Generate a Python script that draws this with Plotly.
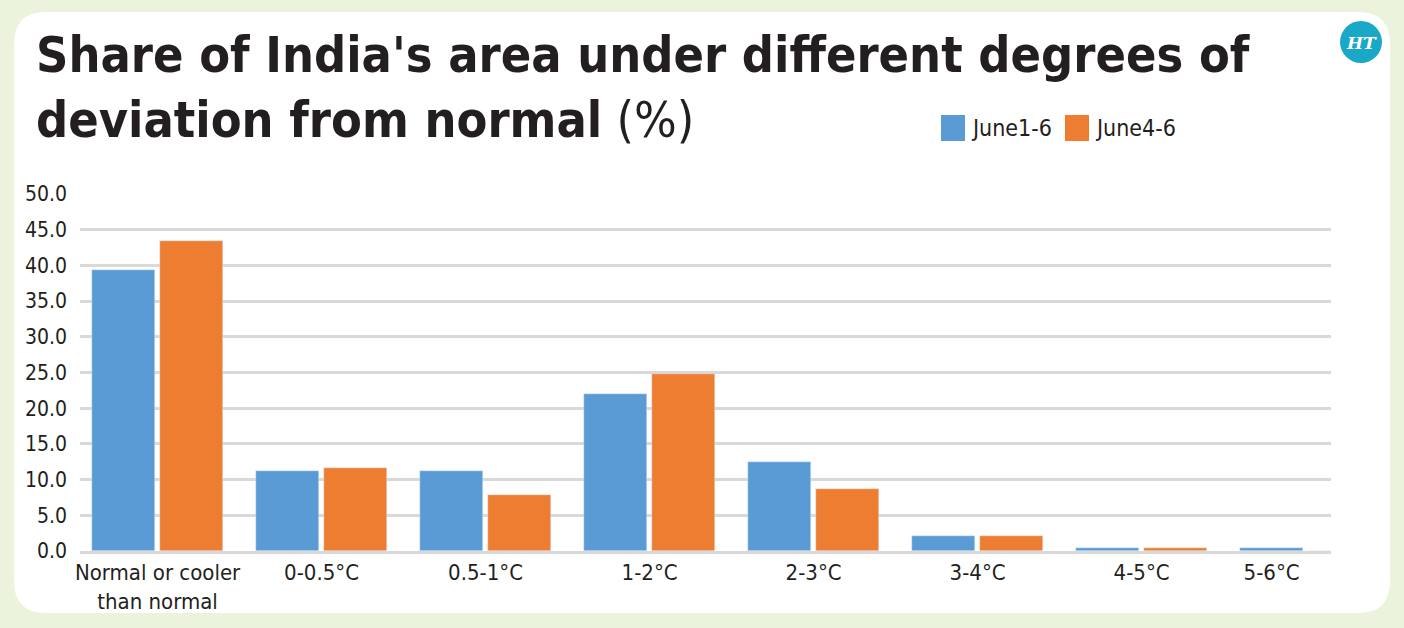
import plotly.graph_objects as go

categories = ["Normal or cooler<br>than normal", "0-0.5°C", "0.5-1°C", "1-2°C",
              "2-3°C", "3-4°C", "4-5°C", "5-6°C"]
june1_6 = [39.4, 11.2, 11.2, 22.0, 12.4, 2.1, 0.4, 0.4]
june4_6 = [43.4, 11.6, 7.9, 24.8, 8.7, 2.1, 0.4, 0.0]
y_ticks = [0, 5, 10, 15, 20, 25, 30, 35, 40, 45, 50]
y_tick_text = [f"{v:.1f}" for v in y_ticks]

W, H = 1404, 628
L, R, T, B = 80, 73, 194, 77
PW, PH = W - L - R, H - T - B

def px(x):
    return (x - L) / PW

def py(y):
    return 1 - (y - T) / PH

BLUE = "#5B9BD5"
ORANGE = "#ED7D31"
TXT = "#231F20"
COND = "DejaVu Sans Condensed, Roboto, sans-serif"

idx = list(range(len(categories)))
off = 0.207
bw = 0.384

fig = go.Figure()
fig.add_bar(x=[i - off for i in idx], y=june1_6, width=bw, marker_color=BLUE,
            name="June1-6", showlegend=False)
fig.add_bar(x=[i + off for i in idx], y=june4_6, width=bw, marker_color=ORANGE,
            name="June4-6", showlegend=False)

tickvals = [float(i) for i in idx]
tickvals[-1] = idx[-1] - off

# card background
x0, y0, x1, y1, r = 14, 12, 1390, 613, 32
path = (f"M {px(x0+r)},{py(y0)} L {px(x1-r)},{py(y0)} Q {px(x1)},{py(y0)} {px(x1)},{py(y0+r)} "
        f"L {px(x1)},{py(y1-r)} Q {px(x1)},{py(y1)} {px(x1-r)},{py(y1)} "
        f"L {px(x0+r)},{py(y1)} Q {px(x0)},{py(y1)} {px(x0)},{py(y1-r)} "
        f"L {px(x0)},{py(y0+r)} Q {px(x0)},{py(y0)} {px(x0+r)},{py(y0)} Z")
shapes = [dict(type="path", xref="paper", yref="paper", path=path,
               fillcolor="white", line=dict(width=0), layer="below")]
# logo circle
cx, cy, cr = 1361, 42, 21
shapes.append(dict(type="circle", xref="paper", yref="paper",
                   x0=px(cx-cr), x1=px(cx+cr), y0=py(cy+cr), y1=py(cy-cr),
                   fillcolor="#1AA8C8", line=dict(width=0)))
# legend squares
for sx, col in [(941, BLUE), (1065, ORANGE)]:
    shapes.append(dict(type="rect", xref="paper", yref="paper",
                       x0=px(sx), x1=px(sx+24), y0=py(141), y1=py(115),
                       fillcolor=col, line=dict(width=0)))

annotations = [
    dict(xref="paper", yref="paper", x=px(34), y=py(24), xanchor="left", yanchor="top",
         align="left", showarrow=False,
         text="<b>Share of India's area under different degrees of</b><br><b>deviation from normal</b> (%)",
         font=dict(family="DejaVu Sans Condensed, sans-serif", size=50, color=TXT)),
    dict(xref="paper", yref="paper", x=px(1361), y=py(43), xanchor="center", yanchor="middle",
         showarrow=False, text="<b><i>HT</i></b>",
         font=dict(family="DejaVu Serif, serif", size=17, color="white")),
    dict(xref="paper", yref="paper", x=px(969), y=py(128), xanchor="left", yanchor="middle",
         showarrow=False, text="June1-6", font=dict(family=COND, size=23, color=TXT)),
    dict(xref="paper", yref="paper", x=px(1093), y=py(128), xanchor="left", yanchor="middle",
         showarrow=False, text="June4-6", font=dict(family=COND, size=23, color=TXT)),
]

fig.update_layout(
    width=W, height=H, margin=dict(l=L, r=R, t=T, b=B),
    paper_bgcolor="#EBF3DC", plot_bgcolor="rgba(0,0,0,0)",
    barmode="overlay", bargap=0, showlegend=False,
    shapes=shapes, annotations=annotations,
    xaxis=dict(range=[-0.473, 7.155], tickmode="array", tickvals=tickvals,
               ticktext=categories, showgrid=False, zeroline=False,
               showline=True, linecolor="#D9D9D9", linewidth=3, ticks="",
               tickfont=dict(family=COND, size=22, color=TXT), fixedrange=True),
    yaxis=dict(range=[0, 50], tickmode="array", tickvals=y_ticks, ticktext=y_tick_text,
               showgrid=True, gridcolor="#D9D9D9", gridwidth=3, zeroline=False,
               showline=False, ticks="", ticklabelstandoff=12,
               tickfont=dict(family=COND, size=21, color=TXT), fixedrange=True),
)

fig.write_html("out.html")
